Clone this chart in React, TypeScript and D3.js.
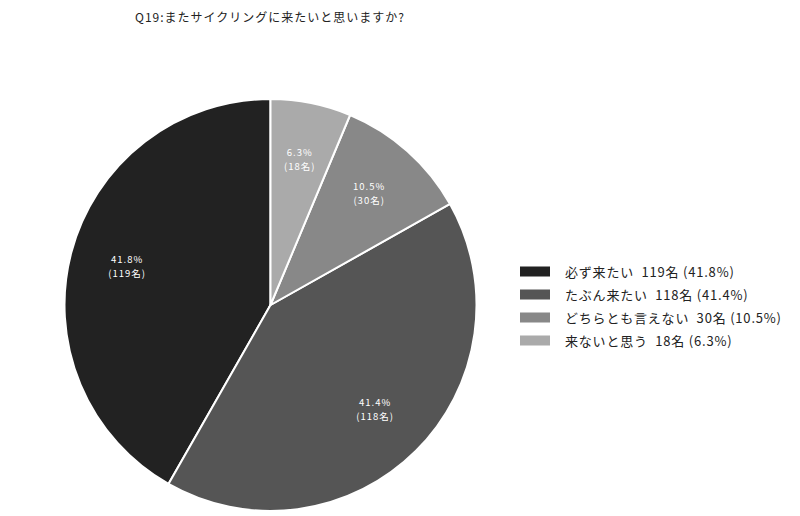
import * as d3 from "d3";

const categories = ["必ず来たい", "たぶん来たい", "どちらとも言えない", "来ないと思う"];
const counts = [119, 118, 30, 18];
const percents = ["41.8%", "41.4%", "10.5%", "6.3%"];
const colors = ["#222222", "#555555", "#888888", "#aaaaaa"];

const title = "Q19:またサイクリングに来たいと思いますか?";

const width = 800;
const height = 516;
const cx = 270.5;
const cy = 305;
const radius = 206;
const font = "'Noto Sans CJK JP', 'Noto Sans', sans-serif";

type Slice = { name: string; count: number; pct: string; color: string };

const slices: Slice[] = categories.map((name, i) => ({
  name,
  count: counts[i],
  pct: percents[i],
  color: colors[i],
}));

const App = () => {
  // drawn counter-clockwise from 12 o'clock in legend order
  const pie = d3
    .pie<Slice>()
    .value((d) => d.count)
    .sort(null)
    .startAngle(0)
    .endAngle(-2 * Math.PI);

  const arcs = pie(slices);
  const arc = d3.arc<d3.PieArcDatum<Slice>>().innerRadius(0).outerRadius(radius);
  const labelArc = d3
    .arc<d3.PieArcDatum<Slice>>()
    .innerRadius(radius * 0.72)
    .outerRadius(radius * 0.72);

  const legendY = d3.scaleBand<number>().domain(d3.range(slices.length)).range([260, 352]);

  return (
    <svg
      width={width}
      height={height}
      style={{ position: "absolute", left: 0, top: 0, background: "#fff" }}
    >
      <text
        x={270}
        y={22}
        textAnchor="middle"
        fontFamily={font}
        fontSize={12}
        letterSpacing={1}
        fill="#222"
      >
        {title}
      </text>
      <g transform={`translate(${cx},${cy})`}>
        {arcs.map((a, i) => (
          <path key={i} d={arc(a) ?? ""} fill={a.data.color} stroke="#fff" strokeWidth={2} />
        ))}
        {arcs.map((a, i) => {
          const [x, y] = labelArc.centroid(a);
          return (
            <g key={i} fontFamily={font} fontSize={9.5} fill="#fff" textAnchor="middle" letterSpacing={1}>
              <text x={x} y={y - 4}>
                {a.data.pct}
              </text>
              <text x={x} y={y + 10}>
                ({a.data.count}名)
              </text>
            </g>
          );
        })}
      </g>
      <g>
        {slices.map((d, i) => {
          const y = (legendY(i) ?? 0) + legendY.bandwidth() / 2;
          return (
            <g key={i}>
              <rect x={520} y={y - 5} width={30} height={10} fill={d.color} />
              <text
                x={565}
                y={y}
                dominantBaseline="central"
                fontFamily={font}
                fontSize={13}
                letterSpacing={0.8}
                fill="#222"
                style={{ whiteSpace: "pre" }}
              >
                {`${d.name}  ${d.count}名 (${d.pct})`}
              </text>
            </g>
          );
        })}
      </g>
    </svg>
  );
};

export default App;
